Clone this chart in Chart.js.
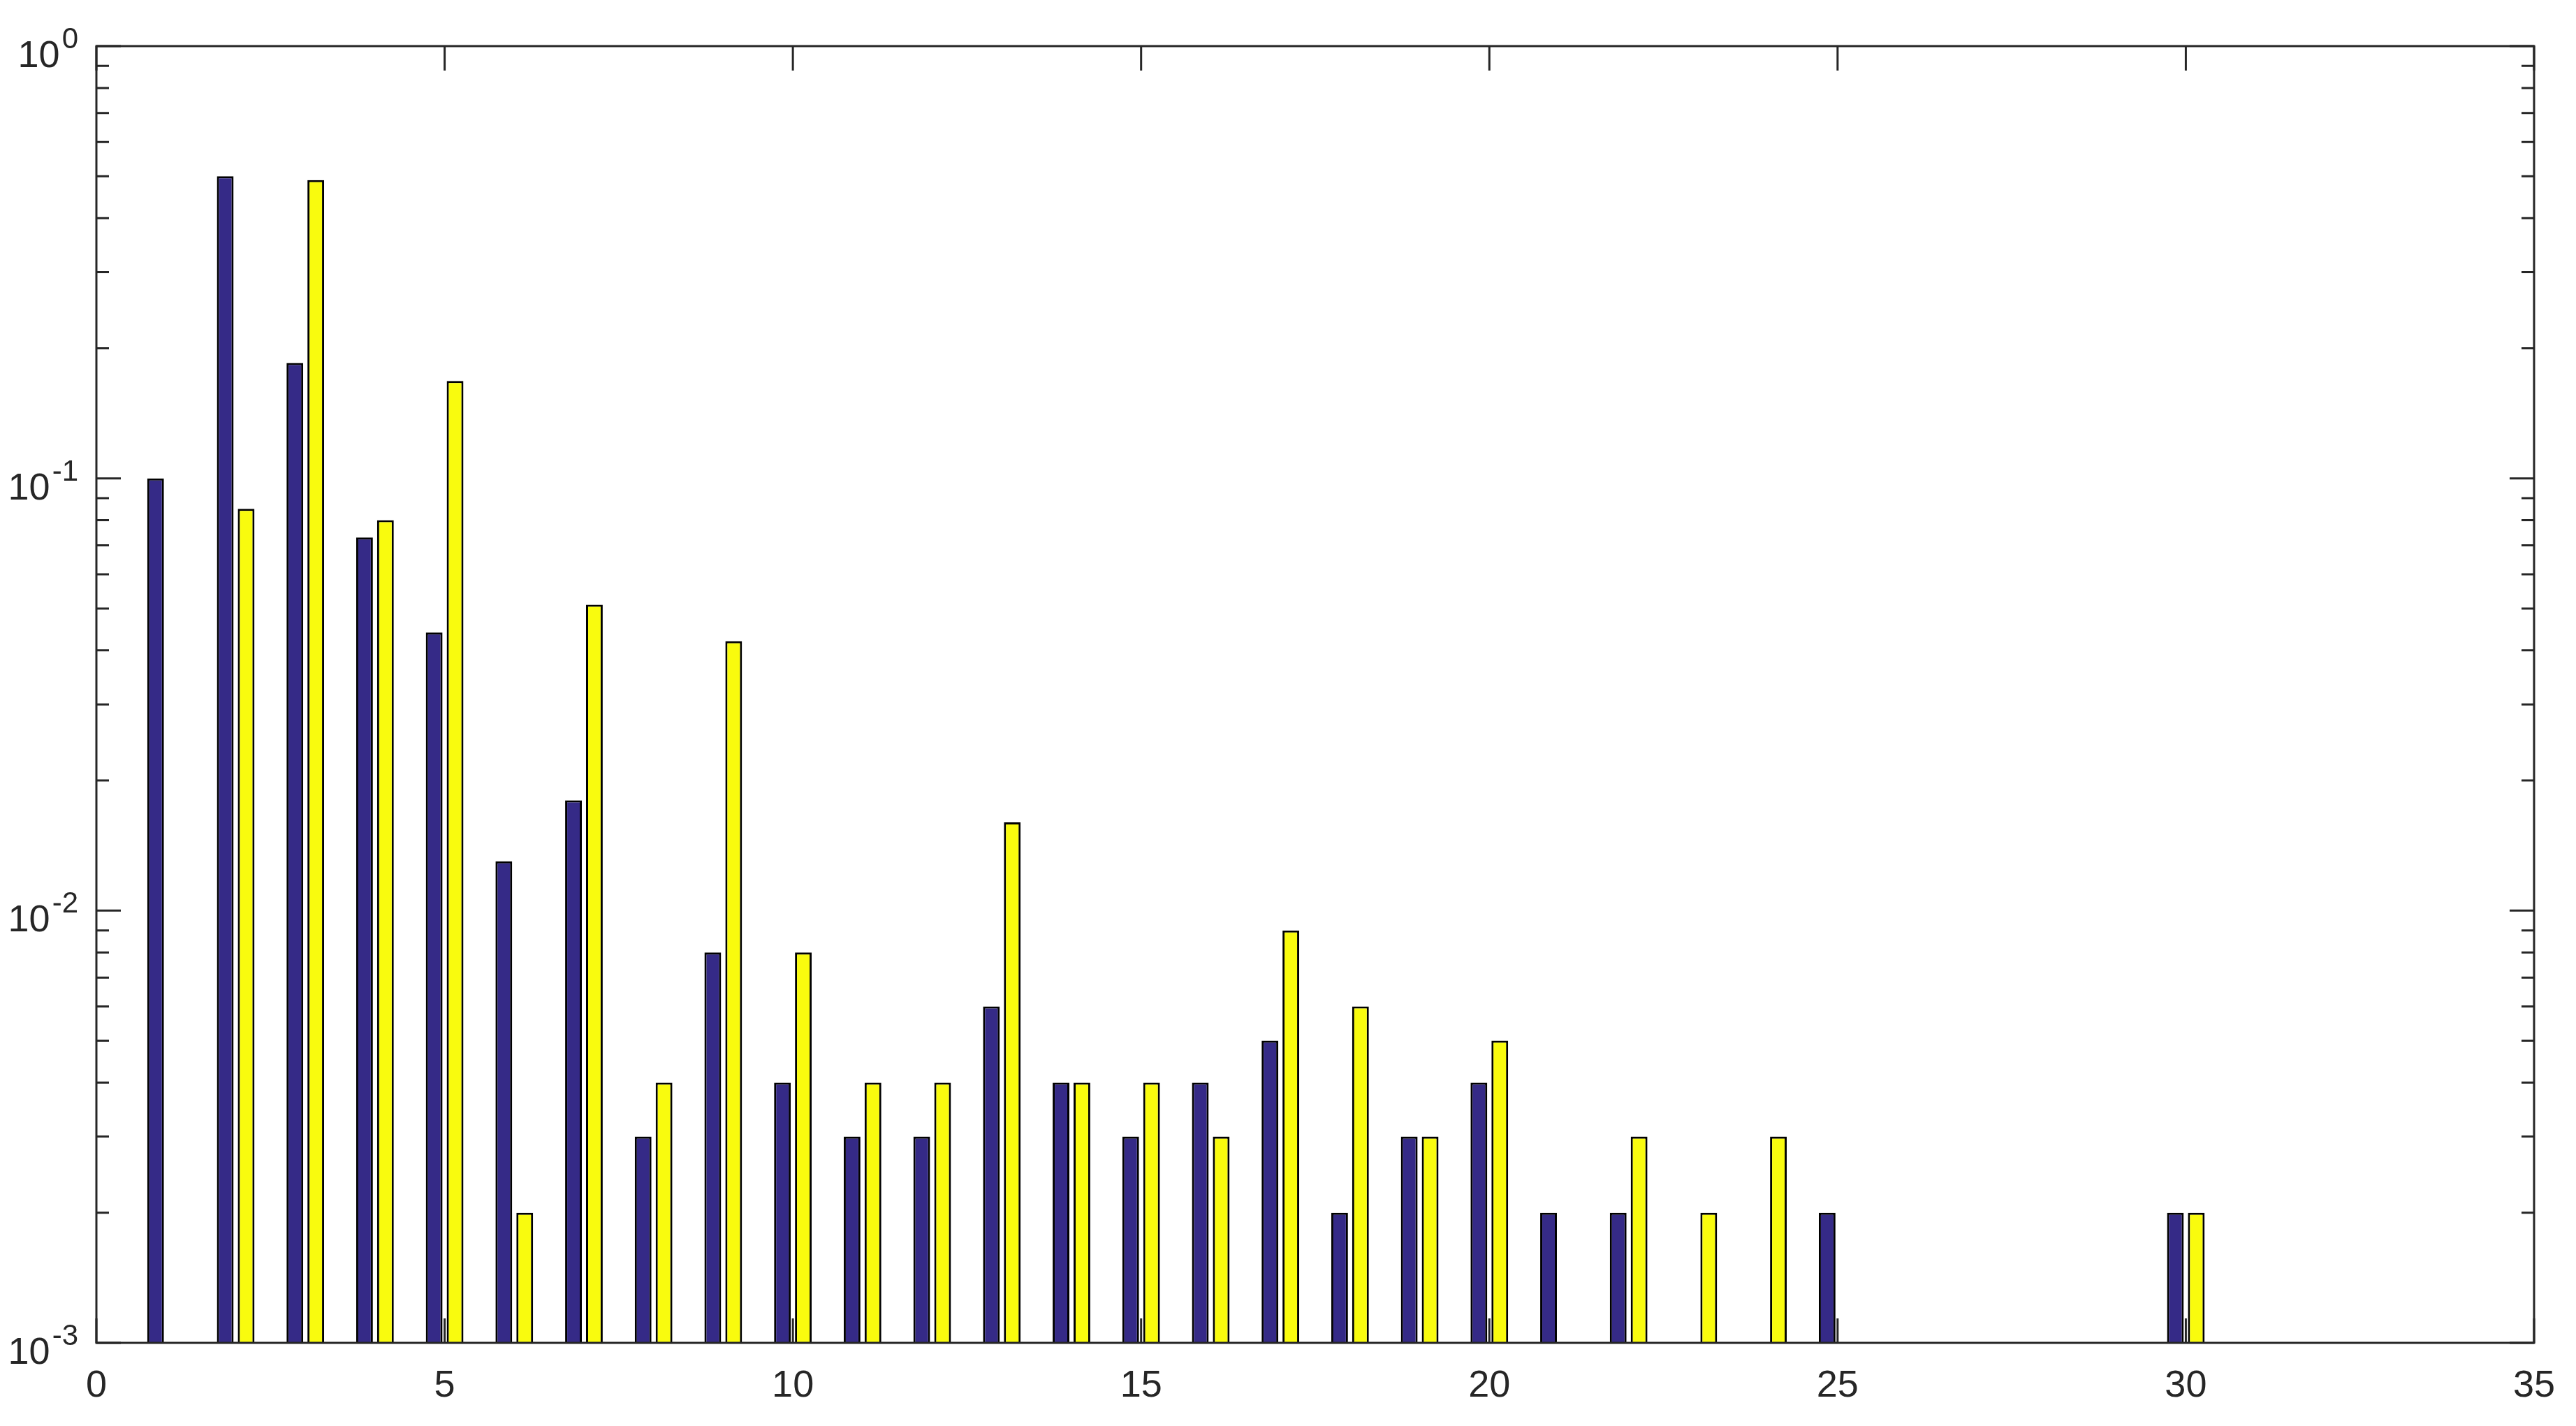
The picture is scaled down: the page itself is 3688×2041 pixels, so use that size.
<!DOCTYPE html>
<html>
<head>
<meta charset="utf-8">
<script src="https://cdn.jsdelivr.net/npm/chart.js@4.4.1/dist/chart.umd.min.js"></script>
<style>
  html, body { margin: 0; padding: 0; background: #fff; }
  #wrap { width: 3688px; height: 2041px; }
</style>
</head>
<body>
<div id="wrap"><canvas id="barChart" width="3688" height="2041"></canvas></div>
<script>
// data
const categories = [1, 2, 3, 4, 5, 6, 7, 8, 9, 10, 11, 12, 13, 14, 15, 16, 17,
                    18, 19, 20, 21, 22, 23, 24, 25, 26, 27, 28, 29, 30, 31, 32, 33];
const blueValues = [0.1, 0.5, 0.185, 0.073, 0.044, 0.013, 0.018, 0.003, 0.008, 0.004, 0.003, 0.003, 0.006, 0.004, 0.003, 0.004, 0.005,
                    0.002, 0.003, 0.004, 0.002, 0.002, null, null, 0.002, null, null, null, null, 0.002, null, null, null];
const yellowValues = [null, 0.085, 0.49, 0.08, 0.168, 0.002, 0.051, 0.004, 0.042, 0.008, 0.004, 0.004, 0.016, 0.004, 0.004, 0.003, 0.009,
                      0.006, 0.003, 0.005, null, 0.003, 0.002, 0.003, null, null, null, null, null, 0.002, null, null, null];

const xTickValues = [0, 5, 10, 15, 20, 25, 30, 35];
const yMajorTicks = [0.001, 0.01, 0.1, 1];
const yTickExponents = ['-3', '-2', '-1', '0'];
const yMinorTicks = [0.002, 0.003, 0.004, 0.005, 0.006, 0.007, 0.008, 0.009,
                     0.02, 0.03, 0.04, 0.05, 0.06, 0.07, 0.08, 0.09,
                     0.2, 0.3, 0.4, 0.5, 0.6, 0.7, 0.8, 0.9];

const axisColor = '#262626';
const fontName = '"Liberation Sans", Arial, sans-serif';

function toPoints(vals) {
    return categories.map((c, i) => ({ x: c, y: vals[i] }));
}

// matlab style box, inward ticks and 10^n labels
const matlabFrame = {
    id: 'matlabFrame',
    afterDatasetsDraw(chart) {
        const { ctx, chartArea: a, scales: { x, y } } = chart;
        ctx.save();
        ctx.strokeStyle = axisColor;
        ctx.lineWidth = 3;
        ctx.beginPath();
        x.ticks.forEach(t => {
            const px = x.getPixelForValue(t.value);
            ctx.moveTo(px, a.bottom); ctx.lineTo(px, a.bottom - 35);
            ctx.moveTo(px, a.top); ctx.lineTo(px, a.top + 35);
        });
        y.ticks.forEach(t => {
            const py = y.getPixelForValue(t.value);
            const len = yMajorTicks.includes(t.value) ? 35 : 18;
            ctx.moveTo(a.left, py); ctx.lineTo(a.left + len, py);
            ctx.moveTo(a.right, py); ctx.lineTo(a.right - len, py);
        });
        ctx.stroke();
        ctx.strokeRect(a.left, a.top, a.right - a.left, a.bottom - a.top);

        // y labels with superscript exponent
        ctx.fillStyle = axisColor;
        ctx.textBaseline = 'alphabetic';
        ctx.textAlign = 'left';
        yMajorTicks.forEach((v, i) => {
            const py = y.getPixelForValue(v);
            ctx.font = '42px ' + fontName;
            const ew = ctx.measureText(yTickExponents[i]).width;
            ctx.font = '54px ' + fontName;
            const bw = ctx.measureText('10').width;
            const right = a.left - 26;
            const left = right - ew - bw - 3;
            ctx.fillText('10', left, py + 30);
            ctx.font = '42px ' + fontName;
            ctx.fillText(yTickExponents[i], left + bw + 3, py + 3);
        });
        ctx.restore();
    }
};

const ctx = document.getElementById('barChart').getContext('2d');
const barChart = new Chart(ctx, {
    type: 'bar',
    data: {
        datasets: [
            {
                data: toPoints(blueValues),
                backgroundColor: 'rgb(53, 42, 135)',
                borderColor: '#000',
                borderWidth: 3,
                categoryPercentage: 0.6,
                barPercentage: 0.8
            },
            {
                data: toPoints(yellowValues),
                backgroundColor: 'rgb(249, 251, 14)',
                borderColor: '#000',
                borderWidth: 3,
                categoryPercentage: 0.6,
                barPercentage: 0.8
            }
        ]
    },
    options: {
        responsive: false,
        devicePixelRatio: 1,
        animation: false,
        layout: { padding: { top: 66, right: 50, left: 0, bottom: 0 } },
        scales: {
            x: {
                type: 'linear',
                offset: false,
                min: 0,
                max: 35,
                afterBuildTicks: s => { s.ticks = xTickValues.map(v => ({ value: v })); },
                afterFit: s => { s.height = 119; },
                ticks: {
                    color: axisColor,
                    font: { family: fontName, size: 54 },
                    padding: 30,
                    maxRotation: 0
                },
                grid: { display: false, drawTicks: false },
                border: { display: false }
            },
            y: {
                type: 'logarithmic',
                min: 0.001,
                max: 1,
                afterBuildTicks: s => {
                    s.ticks = yMajorTicks.concat(yMinorTicks).map(v => ({ value: v }));
                },
                afterFit: s => { s.width = 138; },
                ticks: { display: false },
                grid: { display: false, drawTicks: false },
                border: { display: false }
            }
        },
        plugins: {
            legend: { display: false },
            tooltip: { enabled: false }
        }
    },
    plugins: [matlabFrame]
});
</script>
</body>
</html>
